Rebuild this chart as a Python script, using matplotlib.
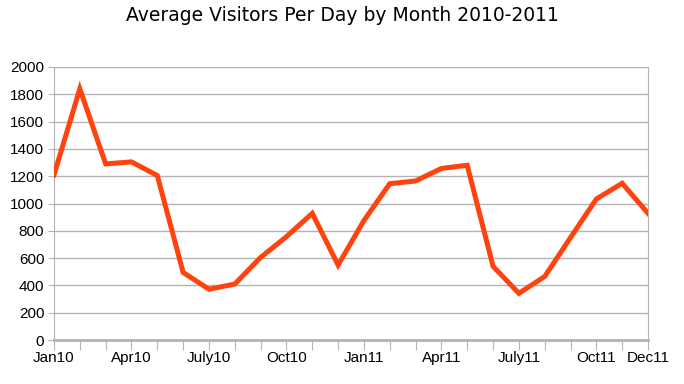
import matplotlib
matplotlib.use("Agg")
import matplotlib.pyplot as plt

months = list(range(24))
visitors = [1210, 1840, 1290, 1305, 1205, 495, 372, 410, 605, 757, 928, 549,
            875, 1145, 1165, 1257, 1280, 540, 342, 465, 750, 1033, 1148, 928]
label_pos = [0, 3, 6, 9, 12, 15, 18, 21, 23]
label_txt = ['Jan10', 'Apr10', 'July10', 'Oct10', 'Jan11', 'Apr11', 'July11', 'Oct11', 'Dec11']
yticks = list(range(0, 2001, 200))

grey = '#b3b3b3'
fig = plt.figure(figsize=(6.84, 3.84), dpi=100)
ax = fig.add_axes([54 / 684, 1 - 340 / 384, (648 - 54) / 684, (340 - 67) / 384])

ax.plot(months, visitors, color='#ff420e', linewidth=3.6, solid_joinstyle='miter', zorder=3)

ax.set_xlim(0, 23)
ax.set_ylim(0, 2000)
ax.set_yticks(yticks)
ax.set_xticks(months)
ax.set_xticklabels(['' for m in months])
for p, t in zip(label_pos, label_txt):
    ax.text(p, -0.04, t, transform=ax.get_xaxis_transform(), ha='center', va='top',
            fontsize=11, family='Liberation Sans')
ax.grid(axis='y', color=grey, linewidth=1)
ax.set_axisbelow(True)
for s in ax.spines.values():
    s.set_color(grey)
ax.spines['top'].set_visible(False)
ax.spines['bottom'].set_linewidth(2)
ax.tick_params(axis='x', length=7, color=grey, direction='out')
ax.tick_params(axis='y', length=4, color=grey, direction='out', pad=3)
for lbl in ax.get_yticklabels():
    lbl.set_family('Liberation Sans')
    lbl.set_fontsize(11)

fig.suptitle('Average Visitors Per Day by Month 2010-2011', y=0.985, fontsize=13.5, family='DejaVu Sans')

fig.savefig('out.png', dpi=100)
